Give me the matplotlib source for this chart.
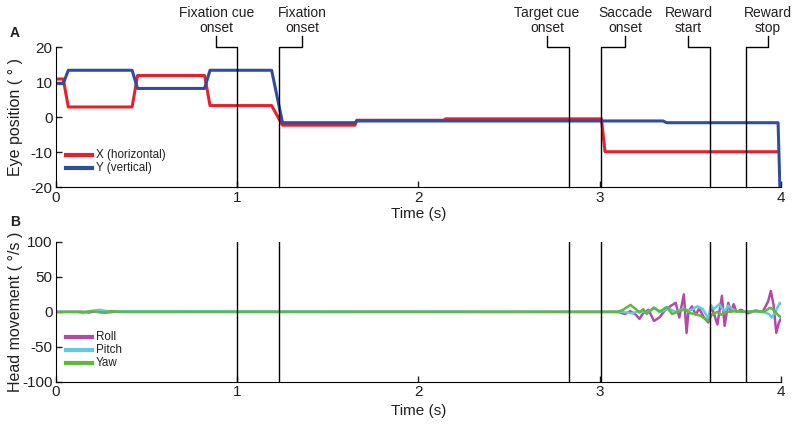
import matplotlib
matplotlib.use("Agg")
import matplotlib.pyplot as plt

plt.rcParams['font.family'] = ['Liberation Sans', 'DejaVu Sans']
plt.rcParams['axes.unicode_minus'] = False

# event markers (s)
event_times = [1.0, 1.23, 2.83, 3.01, 3.61, 3.81]
event_labels = ['Fixation cue\nonset', 'Fixation\nonset', 'Target cue\nonset',
                'Saccade\nonset', 'Reward\nstart', 'Reward\nstop']
event_text_x = [0.884, 1.36, 2.71, 3.14, 3.49, 3.93]

# eye position (deg)
eye_t = [0.0, 0.04, 0.068, 0.42, 0.45, 0.82, 0.85, 1.19, 1.25, 1.65, 1.66,
         2.14, 2.15, 3.01, 3.03, 3.985]
eye_x = [10.9, 10.9, 2.9, 2.9, 11.9, 11.9, 3.3, 3.3, -2.3, -2.3, -0.9,
         -0.9, -0.5, -0.5, -9.9, -9.9]
eye_y_t = [0.0, 0.04, 0.068, 0.42, 0.45, 0.82, 0.85, 1.19, 1.25, 1.65, 1.66,
           3.35, 3.37, 3.985, 3.995]
eye_y = [9.6, 9.6, 13.4, 13.4, 8.2, 8.2, 13.4, 13.4, -1.6, -1.6, -1.1,
         -1.1, -1.6, -1.6, -20]

# head movement (deg/s)
roll_t = [0.0, 0.14, 0.18, 0.22, 0.27, 0.32, 3.10, 3.14, 3.17, 3.20, 3.22,
          3.24, 3.27, 3.30, 3.33, 3.36, 3.39, 3.42, 3.44, 3.465, 3.48, 3.49,
          3.51, 3.53, 3.55, 3.575, 3.60, 3.615, 3.63, 3.65, 3.675, 3.69,
          3.71, 3.725, 3.74, 3.755, 3.78, 3.82, 3.86, 3.90, 3.93, 3.945,
          3.96, 3.975, 3.99, 4.0]
roll_v = [0, 0, -1, 1, -1, 0, 0, -3, 1, -4, -10,
          -2, 3, -13, -8, 2, 8, 13, -8, 25, -30, 0,
          8, -4, 5, -8, -15, 9, -2, -18, 23, -20,
          13, 0, 11, 0, 3, -2, 2, 0, 15, 30,
          10, -30, -15, -10]
pitch_t = [0.0, 0.12, 0.15, 0.19, 0.24, 0.28, 0.6, 3.12, 3.18, 3.22, 3.26,
           3.30, 3.34, 3.38, 3.42, 3.46, 3.50, 3.54, 3.57, 3.60, 3.615, 3.63,
           3.66, 3.69, 3.71, 3.74, 3.78, 3.85, 3.90, 3.935, 3.95, 3.97,
           3.995, 4.0]
pitch_v = [0, 0, -2, 1, 3, 1, 1, 0, -2, 1, -1,
           6, 0, 5, 0, 4, 2, 8, 4, -10, 9, 4,
           11, 0, 9, 2, 0, 1, 0, -3, -8, 0,
           13, 12]
yaw_t = [0.0, 0.15, 0.2, 0.25, 0.3, 0.35, 3.10, 3.13, 3.17, 3.20, 3.22,
         3.24, 3.26, 3.30, 3.33, 3.37, 3.40, 3.44, 3.47, 3.50, 3.53, 3.56,
         3.60, 3.62, 3.65, 3.67, 3.70, 3.75, 3.80, 3.86, 3.90, 3.92, 3.94,
         3.96, 3.99, 4.0]
yaw_v = [0, 0, 1, -1, 1, 0, 0, 3, 10, 4, -1,
         4, -3, 6, 0, 7, -3, 1, 4, -2, -3, -6,
         -13, -4, 0, -4, 0, 1, 0, 1, 0, 2, 6,
         3, -6, -7]

txt = '#231f20'
fig = plt.figure(figsize=(8, 4.29), dpi=100)
axA = fig.add_axes([0.07, 0.564, 0.906, 0.326])
axB = fig.add_axes([0.07, 0.110, 0.906, 0.326])

axA.plot(eye_t, eye_x, color='#e8202a', lw=2.2)
axA.plot(eye_y_t, eye_y, color='#2e4fa0', lw=2.2)
axB.plot(roll_t, roll_v, color='#b44aa6', lw=1.8)
axB.plot(pitch_t, pitch_v, color='#5fcbe0', lw=1.8)
axB.plot(yaw_t, yaw_v, color='#5dba3c', lw=1.8)

# event lines + bracketed labels
for t, lab, tx in zip(event_times, event_labels, event_text_x):
    axA.plot([tx, tx, t, t], [23.1, 20, 20, -20], color='k', lw=1,
             clip_on=False, zorder=5)
    axA.text(tx, 23.5, lab, ha='center', va='bottom', fontsize=10,
             linespacing=1.05, color=txt)
    axB.axvline(t, color='k', lw=1, zorder=5)

for ax, lim, ticks in [(axA, (-20, 20), [-20, -10, 0, 10, 20]),
                       (axB, (-100, 100), [-100, -50, 0, 50, 100])]:
    ax.set_xlim(0, 4)
    ax.set_ylim(*lim)
    ax.set_yticks(ticks)
    ax.set_xticks([0, 1, 2, 3, 4])
    ax.spines['top'].set_visible(False)
    ax.spines['right'].set_visible(False)
    ax.tick_params(direction='in', length=4, width=1, labelsize=11,
                   colors=txt, pad=2.5)
    ax.set_xlabel('Time (s)', fontsize=11, color=txt)

axA.set_ylabel('Eye position ( \u00b0 )', fontsize=11.5, color=txt)
axB.set_ylabel('Head movement ( \u00b0/s )', fontsize=11.5, color=txt)
axA.yaxis.set_label_coords(-0.045, 0.5)
axB.yaxis.set_label_coords(-0.045, 0.5)
axA.xaxis.set_label_coords(0.5, -0.14)
axB.xaxis.set_label_coords(0.5, -0.16)

# legends drawn by hand
for ax, names, colors, ys in [
        (axA, ['X (horizontal)', 'Y (vertical)'], ['#e8202a', '#2e4fa0'],
         [0.229, 0.136]),
        (axB, ['Roll', 'Pitch', 'Yaw'], ['#b44aa6', '#5fcbe0', '#5dba3c'],
         [0.321, 0.229, 0.136])]:
    for n, c, y in zip(names, colors, ys):
        ax.plot([0.0138, 0.0497], [y, y], color=c, lw=3,
                transform=ax.transAxes)
        ax.text(0.055, y, n, transform=ax.transAxes, va='center',
                fontsize=8.4, color=txt)

fig.text(0.0125, 0.924, 'A', fontsize=10, fontweight='bold', va='center',
         color=txt)
fig.text(0.0125, 0.482, 'B', fontsize=10, fontweight='bold', va='center',
         color=txt)

fig.savefig('out.png', dpi=100)
